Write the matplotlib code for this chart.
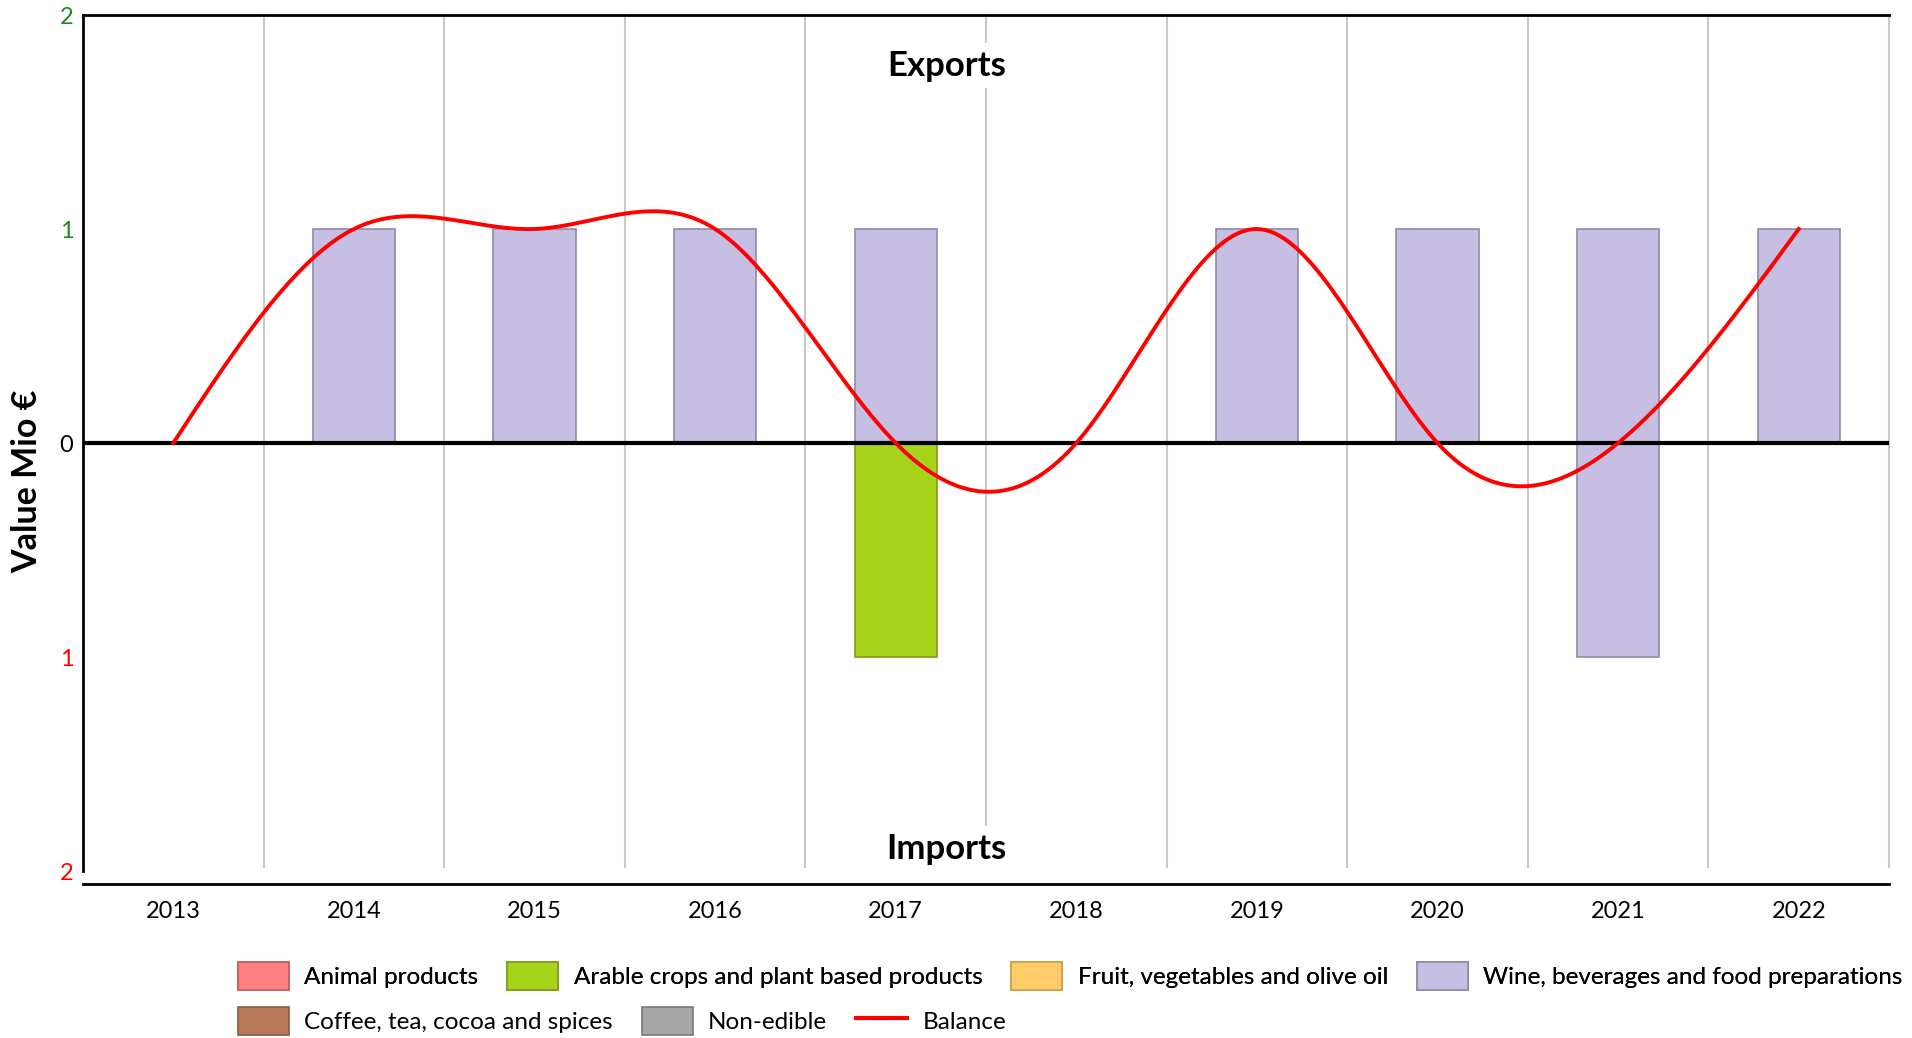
import numpy as np
import matplotlib
matplotlib.use("Agg")
import matplotlib.pyplot as plt
from matplotlib.patches import Patch
from matplotlib.lines import Line2D

plt.rcParams["font.family"] = ["Lato", "DejaVu Sans"]

years = ["2013", "2014", "2015", "2016", "2017", "2018", "2019", "2020", "2021", "2022"]
categories = ["Animal products", "Arable crops and plant based products",
              "Fruit, vegetables and olive oil", "Wine, beverages and food preparations",
              "Coffee, tea, cocoa and spices", "Non-edible"]

# exports per category (Mio €)
exp_animal = [0, 0, 0, 0, 0, 0, 0, 0, 0, 0]
exp_arable = [0, 0, 0, 0, 0, 0, 0, 0, 0, 0]
exp_fruit = [0, 0, 0, 0, 0, 0, 0, 0, 0, 0]
exp_wine = [0, 1, 1, 1, 1, 0, 1, 1, 1, 1]
exp_coffee = [0, 0, 0, 0, 0, 0, 0, 0, 0, 0]
exp_nonedible = [0, 0, 0, 0, 0, 0, 0, 0, 0, 0]

# imports per category (Mio €)
imp_animal = [0, 0, 0, 0, 0, 0, 0, 0, 0, 0]
imp_arable = [0, 0, 0, 0, 1, 0, 0, 0, 0, 0]
imp_fruit = [0, 0, 0, 0, 0, 0, 0, 0, 0, 0]
imp_wine = [0, 0, 0, 0, 0, 0, 0, 0, 1, 0]
imp_coffee = [0, 0, 0, 0, 0, 0, 0, 0, 0, 0]
imp_nonedible = [0, 0, 0, 0, 0, 0, 0, 0, 0, 0]

balance = [0, 1, 1, 1, 0, 0, 1, 0, 0, 1]

face_colors = ["#ff8080", "#a5d41a", "#ffcc66", "#c6bfe3", "#b87b5a", "#a6a6a6"]
edge_colors = ["#c06060", "#7e9c18", "#c8a04c", "#8f89aa", "#8a5a40", "#787878"]


def smooth_line(xs, ys, n=40):
    # natural cubic spline, like the smoothed line in the original chart
    xs = np.asarray(xs, float)
    ys = np.asarray(ys, float)
    k = len(xs)
    A = np.zeros((k, k))
    b = np.zeros(k)
    A[0, 0], A[0, 1], b[0] = 2, 1, 3 * (ys[1] - ys[0])
    A[-1, -2], A[-1, -1], b[-1] = 1, 2, 3 * (ys[-1] - ys[-2])
    for i in range(1, k - 1):
        A[i, i - 1], A[i, i], A[i, i + 1] = 1, 4, 1
        b[i] = 3 * (ys[i + 1] - ys[i - 1])
    m = np.linalg.solve(A, b)
    out_x, out_y = [], []
    t = np.linspace(0, 1, n)
    for i in range(k - 1):
        h00 = 2 * t**3 - 3 * t**2 + 1
        h10 = t**3 - 2 * t**2 + t
        h01 = -2 * t**3 + 3 * t**2
        h11 = t**3 - t**2
        out_x.append(xs[i] + t)
        out_y.append(h00 * ys[i] + h10 * m[i] + h01 * ys[i + 1] + h11 * m[i + 1])
    return np.concatenate(out_x), np.concatenate(out_y)


fig = plt.figure(figsize=(19.12, 10.38), dpi=100)
ax = fig.add_axes([83 / 1912, 1 - 871 / 1038, 1806 / 1912, 856 / 1038])

ax.spines["right"].set_visible(False)
for s in ["left", "top", "bottom"]:
    ax.spines[s].set_linewidth(2)
ax.spines["bottom"].set_position(("outward", 9.5))

x = np.arange(len(years))
width = 0.455

exports = [exp_animal, exp_arable, exp_fruit, exp_wine, exp_coffee, exp_nonedible]
imports = [imp_animal, imp_arable, imp_fruit, imp_wine, imp_coffee, imp_nonedible]

bottom_pos = np.zeros(len(years))
bottom_neg = np.zeros(len(years))
for vals, fc, ec in zip(exports, face_colors, edge_colors):
    vals = np.array(vals, float)
    mask = vals != 0
    ax.bar(x[mask], vals[mask], width, bottom=bottom_pos[mask], color=fc,
           edgecolor=ec, linewidth=1.2, zorder=3)
    bottom_pos += vals
for vals, fc, ec in zip(imports, face_colors, edge_colors):
    vals = np.array(vals, float)
    mask = vals != 0
    ax.bar(x[mask], -vals[mask], width, bottom=bottom_neg[mask], color=fc,
           edgecolor=ec, linewidth=1.2, zorder=3)
    bottom_neg -= vals

# vertical separators between years
for xb in np.arange(0.5, len(years), 1.0):
    ax.plot([xb, xb], [-1.98, 2], color="#c8c8c8", lw=1.5, zorder=1, clip_on=False)

ax.axhline(0, color="black", lw=3, zorder=4)

sx, sy = smooth_line(x, balance)
ax.plot(sx, sy, color="red", lw=2.8, zorder=5)

ax.set_xlim(-0.5, len(years) - 0.5)
ax.set_ylim(-2, 2)
ax.set_xticks(x)
ax.set_xticklabels(years)
ax.set_yticks([2, 1, 0, -1, -2])
ax.set_yticklabels(["2", "1", "0", "1", "2"])
ax.tick_params(axis="both", length=0, labelsize=17)
ax.tick_params(axis="y", pad=7)
ax.tick_params(axis="x", pad=12)
for lab, c in zip(ax.get_yticklabels(), ["#1e8a1e", "#1e8a1e", "black", "red", "red"]):
    lab.set_color(c)

ax.text(0.478, 0.941, "Exports", transform=ax.transAxes, ha="center", va="center",
        fontsize=25, fontweight="bold", zorder=6,
        bbox=dict(facecolor="white", edgecolor="none", pad=5))
ax.text(0.478, 0.026, "Imports", transform=ax.transAxes, ha="center", va="center",
        fontsize=25, fontweight="bold", zorder=6,
        bbox=dict(facecolor="white", edgecolor="none", pad=5))

fig.text(27 / 1912, 1 - 481 / 1038, "Value Mio €", rotation=90, ha="center", va="center",
         fontsize=24.5, fontweight="bold")

handles = [Patch(facecolor=fc, edgecolor=ec, linewidth=1.2)
           for fc, ec in zip(face_colors, edge_colors)]
handles.append(Line2D([0], [0], color="red", lw=3))
labels = categories + ["Balance"]

leg_kw = dict(frameon=False, fontsize=17.5, handlelength=2.1, handleheight=1.35,
              handletextpad=0.62, columnspacing=1.2, borderpad=0, borderaxespad=0,
              loc="center left", bbox_transform=fig.transFigure)
leg1 = fig.legend(handles[:4], labels[:4], ncol=4, bbox_to_anchor=(238 / 1912, 1 - 976 / 1038), **leg_kw)
fig.add_artist(leg1)
fig.legend(handles[4:], labels[4:], ncol=3, bbox_to_anchor=(238 / 1912, 1 - 1021 / 1038), **leg_kw)

fig.savefig("out.png", dpi=100)
